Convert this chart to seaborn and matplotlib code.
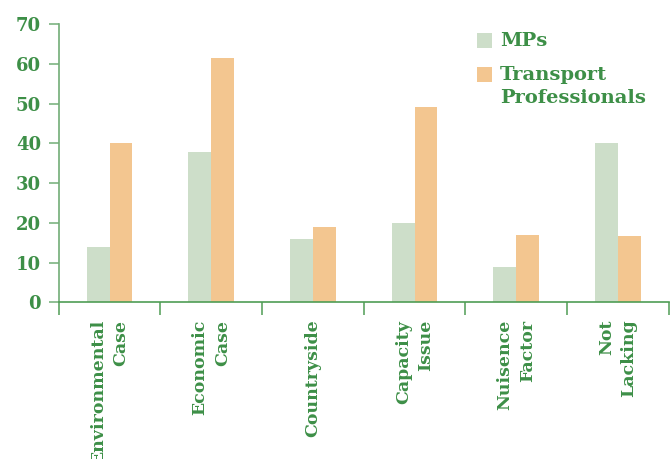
import matplotlib
matplotlib.use("Agg")
import matplotlib.pyplot as plt
from matplotlib.patches import Rectangle
from matplotlib.ticker import FixedLocator, NullFormatter
import seaborn as sns
import pandas as pd

categories = ["Environmental\nCase", "Economic\nCase", "Countryside",
              "Capacity\nIssue", "Nuisence\nFactor", "Not\nLacking"]
mps = [14, 37.8, 16, 20, 9, 40]
transport_professionals = [40, 61.4, 19, 49, 17, 16.7]
series_names = ["MPs", "Transport\nProfessionals"]
y_ticks = [0, 10, 20, 30, 40, 50, 60, 70]

GREEN = "#3d8f47"
MP_COLOR = "#cddec9"
TP_COLOR = "#f3c690"

df = pd.DataFrame({
    "category": categories * 2,
    "value": mps + transport_professionals,
    "group": [series_names[0]] * len(categories) + [series_names[1]] * len(categories),
})

sns.set_style("white")
plt.rcParams["font.family"] = ["DejaVu Serif"]
plt.rcParams["font.weight"] = "bold"

fig = plt.figure(figsize=(6.72, 4.59), dpi=100)
W, H = 672, 459
ax = fig.add_axes([58.7 / W, 1 - 302.3 / H, 610 / W, (302.3 - 24) / H])

sns.barplot(data=df, x="category", y="value", hue="group",
            palette=[MP_COLOR, TP_COLOR], saturation=1, width=0.45,
            order=categories, hue_order=series_names, legend=False,
            linewidth=0, edgecolor="none", ax=ax)

ax.set_xlim(-0.5, len(categories) - 0.5)
ax.set_ylim(0, 70)
ax.set_yticks(y_ticks)
ax.set_xlabel("")
ax.set_ylabel("")

for s in ["top", "right"]:
    ax.spines[s].set_visible(False)
ax.spines["left"].set_color("#72ad77")
ax.spines["left"].set_linewidth(1.2)
ax.spines["bottom"].set_color("#4f9d55")
ax.spines["bottom"].set_linewidth(1.2)

# category labels at centres, boundary ticks between categories
ax.set_xticks(range(len(categories)))
ax.set_xticklabels(categories, rotation=90, ha="center", va="top",
                   multialignment="right", linespacing=1.4)
ax.tick_params(axis="x", which="major", length=0, pad=12.5,
               labelsize=12.5, labelcolor=GREEN)
ax.xaxis.set_minor_locator(FixedLocator([i - 0.5 for i in range(len(categories) + 1)]))
ax.xaxis.set_minor_formatter(NullFormatter())
ax.tick_params(axis="x", which="minor", length=9.5, width=1.1, color="#4f9d55",
               direction="out", bottom=True)
ax.tick_params(axis="y", length=7.2, width=1.1, color="#72ad77", pad=5.5,
               labelsize=13, labelcolor=GREEN, left=True, direction="out")
for lbl in ax.get_xticklabels() + ax.get_yticklabels():
    lbl.set_fontweight("bold")

# legend
sq = 15
entries = [(series_names[0], MP_COLOR, 32.7), (series_names[1], TP_COLOR, 67)]
for label, color, top in entries:
    fig.add_artist(Rectangle((477 / W, 1 - (top + sq) / H), sq / W, sq / H,
                             transform=fig.transFigure, facecolor=color,
                             edgecolor="none"))
    fig.text(500 / W, 1 - (top - 0.8) / H, label, color=GREEN, fontsize=14,
             fontweight="bold", ha="left", va="top", linespacing=1.35)

fig.savefig("out.png", dpi=100)
